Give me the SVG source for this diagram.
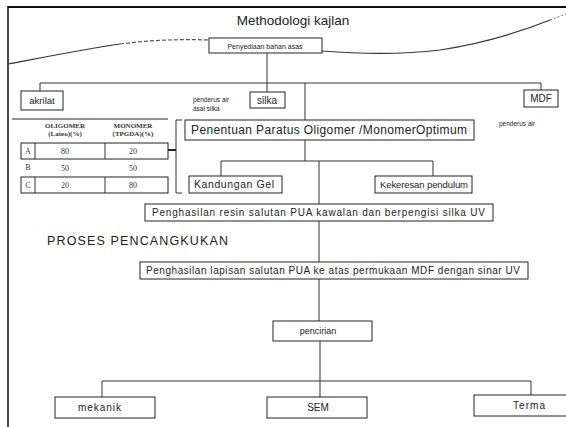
<svg xmlns="http://www.w3.org/2000/svg" width="566" height="427" viewBox="0 0 566 427">
<style>
.box{fill:#fff;stroke:#222;stroke-width:1}
.ln{fill:none;stroke:#333;stroke-width:1}
.t{font-family:"Liberation Sans",Arial,sans-serif;fill:#222}
.s{font-family:"Liberation Serif","Times New Roman",serif;fill:#333}
</style>
<rect width="566" height="427" fill="#fff"/>
<g id="frame">
<line x1="8" y1="7" x2="566" y2="7" stroke="#111" stroke-width="2"/>
<line x1="8" y1="6" x2="8" y2="427" stroke="#111" stroke-width="1.5"/>
</g>
<g id="wave">
<path d="M8,64 C40,58 80,50 120,44" fill="none" stroke="#333" stroke-width="1.2"/>
<path d="M120,44 C150,40 180,39 209,40" fill="none" stroke="#555" stroke-width="1.2" stroke-dasharray="4,2"/>
<path d="M322,51 C360,54 400,55 440,50 C480,44 520,32 550,20" fill="none" stroke="#333" stroke-width="1.2"/>
<path d="M550,20 L566,14" fill="none" stroke="#666" stroke-width="1" stroke-dasharray="2,2"/>
</g>
<text class="t" x="293" y="25" font-size="13.5" text-anchor="middle">Methodologi kajlan</text>
<g id="connectors">
<line class="ln" x1="267" y1="53" x2="267" y2="83"/>
<line class="ln" x1="40" y1="83" x2="541" y2="83"/>
<line class="ln" x1="40" y1="83" x2="40" y2="91"/>
<line class="ln" x1="267" y1="83" x2="267" y2="92"/>
<line class="ln" x1="541" y1="83" x2="541" y2="90"/>
<line class="ln" x1="305" y1="83" x2="305" y2="120"/>
<line class="ln" x1="305" y1="140" x2="305" y2="161"/>
<line class="ln" x1="221" y1="161" x2="433" y2="161"/>
<line class="ln" x1="221" y1="161" x2="221" y2="176"/>
<line class="ln" x1="433" y1="161" x2="433" y2="176"/>
<line class="ln" x1="319" y1="161" x2="319" y2="204"/>
<line class="ln" x1="319" y1="221" x2="319" y2="262"/>
<line class="ln" x1="319" y1="279" x2="319" y2="321"/>
<line class="ln" x1="320" y1="341" x2="320" y2="397"/>
<line class="ln" x1="102" y1="381" x2="531" y2="381"/>
<line class="ln" x1="102" y1="381" x2="102" y2="397"/>
<line class="ln" x1="531" y1="381" x2="531" y2="395"/>
<path class="ln" d="M182,120 H176 V193 H182"/>
<line x1="168" y1="150" x2="176" y2="150" stroke="#222" stroke-width="2"/>
</g>
<g id="n-penyediaan">
<rect class="box" x="209" y="38" width="113" height="15"/>
<text class="t" x="265" y="49" font-size="7" text-anchor="middle" fill="#555">Penyediaan bahan asas</text>
</g>
<g id="n-akrilat">
<rect class="box" x="21" y="91" width="42" height="19"/>
<text class="t" x="42" y="104" font-size="9.5" text-anchor="middle">akrilat</text>
</g>
<g id="n-silka">
<rect class="box" x="250" y="92" width="35" height="16"/>
<text class="t" x="267" y="104" font-size="10" text-anchor="middle">silka</text>
<text class="t" x="193" y="102" font-size="6.5" fill="#444">penderus air</text>
<text class="t" x="193" y="111" font-size="6.5" fill="#444">asal silka</text>
</g>
<g id="n-mdf">
<rect class="box" x="524" y="90" width="34" height="17"/>
<text class="t" x="541" y="102" font-size="10" text-anchor="middle">MDF</text>
<text class="t" x="499" y="126" font-size="6.5" fill="#444">penderus air</text>
</g>
<g id="n-table">
<line x1="12" y1="119" x2="168" y2="119" stroke="#222" stroke-width="1"/>
<text class="s" x="65" y="128" font-size="7" font-weight="bold" text-anchor="middle">OLIGOMER</text>
<text class="s" x="65" y="136" font-size="7" font-weight="bold" text-anchor="middle">(Lateo)(%)</text>
<text class="s" x="133" y="128" font-size="7" font-weight="bold" text-anchor="middle">MONOMER</text>
<text class="s" x="133" y="136" font-size="7" font-weight="bold" text-anchor="middle">(TPGDA)(%)</text>
<rect class="box" x="21" y="143" width="147" height="16"/>
<line class="ln" x1="35" y1="143" x2="35" y2="159"/>
<line class="ln" x1="105" y1="143" x2="105" y2="159"/>
<text class="s" x="28" y="154" font-size="8" text-anchor="middle">A</text>
<text class="s" x="65" y="154" font-size="8" text-anchor="middle">80</text>
<text class="s" x="133" y="154" font-size="8" text-anchor="middle">20</text>
<text class="s" x="28" y="170" font-size="8" text-anchor="middle">B</text>
<text class="s" x="65" y="171" font-size="8" text-anchor="middle">50</text>
<text class="s" x="133" y="171" font-size="8" text-anchor="middle">50</text>
<rect class="box" x="21" y="177" width="147" height="16"/>
<line class="ln" x1="35" y1="177" x2="35" y2="193"/>
<line class="ln" x1="105" y1="177" x2="105" y2="193"/>
<text class="s" x="28" y="188" font-size="8" text-anchor="middle">C</text>
<text class="s" x="65" y="188" font-size="8" text-anchor="middle">20</text>
<text class="s" x="133" y="188" font-size="8" text-anchor="middle">80</text>
</g>
<g id="n-penentuan">
<rect class="box" x="185" y="120" width="289" height="20"/>
<text class="t" x="191" y="134" font-size="12" textLength="276" lengthAdjust="spacing">Penentuan Paratus Oligomer /MonomerOptimum</text>
</g>
<g id="n-kandungan">
<rect class="box" x="189" y="176" width="93" height="17"/>
<text class="t" x="194" y="188" font-size="10.5" textLength="80" lengthAdjust="spacing">Kandungan Gel</text>
</g>
<g id="n-kekeresan">
<rect class="box" x="375" y="176" width="97" height="17"/>
<text class="t" x="380" y="188" font-size="9.5" textLength="88" lengthAdjust="spacing">Kekeresan pendulum</text>
</g>
<g id="n-penghasilan-resin">
<rect class="box" x="145" y="204" width="348" height="17"/>
<text class="t" x="152" y="216" font-size="10" textLength="333" lengthAdjust="spacing">Penghasilan resin salutan PUA  kawalan dan berpengisi silka UV</text>
</g>
<text class="t" x="47" y="245" font-size="12.5" textLength="181" lengthAdjust="spacing">PROSES PENCANGKUKAN</text>
<g id="n-penghasilan-lapisan">
<rect class="box" x="140" y="262" width="388" height="17"/>
<text class="t" x="146" y="274" font-size="10" textLength="374" lengthAdjust="spacing">Penghasilan lapisan salutan PUA ke atas permukaan MDF dengan sinar UV</text>
</g>
<g id="n-pencirian">
<rect class="box" x="273" y="321" width="99" height="20"/>
<text class="t" x="318" y="334" font-size="9" text-anchor="middle">pencirian</text>
</g>
<g id="n-mekanik">
<rect class="box" x="55" y="397" width="100" height="21"/>
<text class="t" x="78" y="411" font-size="10" textLength="43" lengthAdjust="spacing">mekanik</text>
</g>
<g id="n-sem">
<rect class="box" x="267" y="397" width="100" height="21"/>
<text class="t" x="318" y="411" font-size="10" text-anchor="middle">SEM</text>
</g>
<g id="n-terma">
<rect class="box" x="474" y="395" width="100" height="21"/>
<text class="t" x="513" y="409" font-size="10" textLength="32" lengthAdjust="spacing">Terma</text>
</g>
</svg>
